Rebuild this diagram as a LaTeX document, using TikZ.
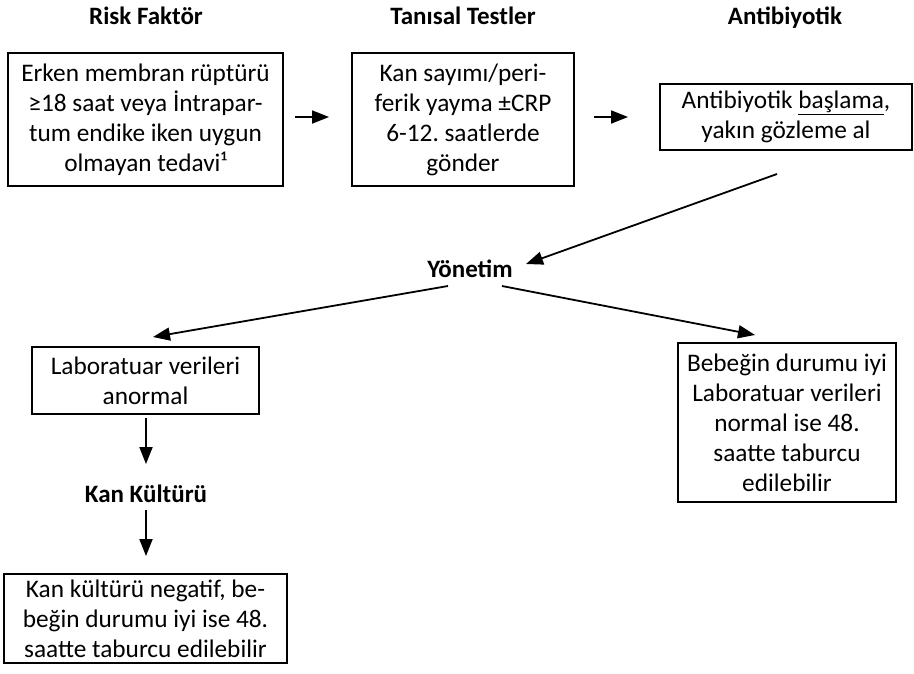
\documentclass[tikz,border=0pt]{standalone}
\usepackage{fontspec}
\setmainfont{Carlito}
\usetikzlibrary{arrows.meta}
\frenchspacing
\begin{document}
\begin{tikzpicture}[x=1pt,y=-1pt,
  box/.style={draw,line width=1.8pt,align=center,inner sep=0pt,font=\fontsize{25.3}{30}\selectfont},
  ttl/.style={font=\fontsize{25}{30}\selectfont\bfseries,inner sep=1pt,anchor=base},
  arr/.style={line width=1.8pt,-{Triangle[length=17pt,width=13pt]}}]
\useasboundingbox (0,0) rectangle (914,673);
% titles
\node[ttl] (t1) at (146,24) {Risk Faktör};
\node[ttl] (t2) at (463,24) {Tanısal Testler};
\node[ttl] (t3) at (785,24) {Antibiyotik};
% boxes
\node[box,minimum width=275pt,minimum height=133pt] (b1) at (145.5,119.5)
  {Erken membran rüptürü\\≥18 saat veya İntrapar-\\tum endike iken uygun\\olmayan tedavi¹};
\node[box,minimum width=222pt,minimum height=133pt] (b2) at (463,119.5)
  {Kan sayımı/peri-\\ferik yayma ±CRP\\6-12. saatlerde\\gönder};
\node[box,minimum width=252pt,minimum height=66pt] (b3) at (786,117)
  {Antibiyotik \underline{başlama},\\yakın gözleme al};
\node[ttl] (yon) at (470,277) {Yönetim};
\node[box,minimum width=227pt,minimum height=67pt] (b4) at (145.5,380.5)
  {Laboratuar verileri\\anormal};
\node[box,minimum width=218pt,minimum height=159pt] (b5) at (787,422.5)
  {Bebeğin durumu iyi\\Laboratuar verileri\\normal ise 48.\\saatte taburcu\\edilebilir};
\node[ttl] (kk) at (146,502) {Kan Kültürü};
\node[box,minimum width=283pt,minimum height=89pt] (b6) at (145.5,618.5)
  {Kan kültürü negatif, be-\\beğin durumu iyi ise 48.\\saatte taburcu edilebilir};
% connector end points
\coordinate (a1s) at (295,117);
\coordinate (a1e) at (329,117);
\coordinate (a2s) at (594,117);
\coordinate (a2e) at (628,117);
\coordinate (a3s) at (777,174);
\coordinate (a3e) at (526,264);
\coordinate (a4s) at (448,286);
\coordinate (a4e) at (153,337);
\coordinate (a5s) at (502,286);
\coordinate (a5e) at (755,335);
\coordinate (a6s) at (146,418);
\coordinate (a6e) at (146,464);
\coordinate (a7s) at (146,510);
\coordinate (a7e) at (146,556);
% arrows
\draw[arr] (a1s) -- (a1e);
\draw[arr] (a2s) -- (a2e);
\draw[arr] (a3s) -- (a3e);
\draw[arr] (a4s) -- (a4e);
\draw[arr] (a5s) -- (a5e);
\draw[arr] (a6s) -- (a6e);
\draw[arr] (a7s) -- (a7e);
\end{tikzpicture}
\end{document}
